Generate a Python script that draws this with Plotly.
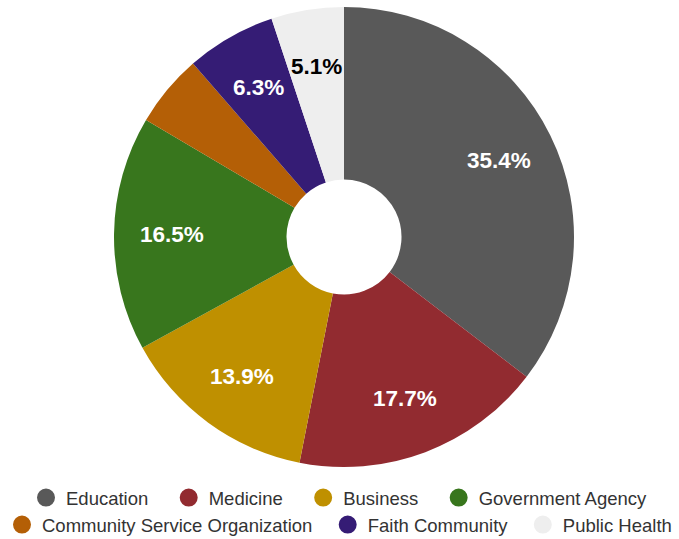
import math
import plotly.graph_objects as go

labels = ["Education", "Medicine", "Business", "Government Agency",
          "Community Service Organization", "Faith Community", "Public Health"]
values = [35.4, 17.7, 13.9, 16.5, 5.1, 6.3, 5.1]
colors = ["#595959", "#922B30", "#BF9000", "#38761D", "#B45F06", "#351C75", "#EEEEEE"]
show_text = [True, True, True, True, False, True, True]
text_colors = ["white", "white", "white", "white", "white", "white", "black"]

W, H = 679, 539
cx, cy, r = 344, 237, 230
label_frac = 0.75

fig = go.Figure()
fig.add_trace(go.Pie(
    labels=labels, values=values, sort=False, direction="clockwise", rotation=0,
    hole=0.25,
    marker=dict(colors=colors, line=dict(width=0)),
    textinfo="none",
    showlegend=False,
    hoverinfo="label+percent",
    domain=dict(x=[(cx - r) / W, (cx + r) / W], y=[1 - (cy + r) / H, 1 - (cy - r) / H]),
))

# slice labels placed at the mid-angle of each slice (computed from the values)
total = sum(values)
cum = 0.0
for v, s, tc in zip(values, show_text, text_colors):
    mid = (cum + v / 2) / total * 2 * math.pi
    cum += v
    if not s:
        continue
    px = cx + label_frac * r * math.sin(mid)
    py = cy - label_frac * r * math.cos(mid)
    fig.add_annotation(
        x=px / W, y=1 - py / H, xref="paper", yref="paper",
        text=f"<b>{v:.1f}%</b>", showarrow=False,
        font=dict(family="Liberation Sans, Arial", size=22.5, color=tc),
        xanchor="center", yanchor="middle",
    )

for i, (lab, col) in enumerate(zip(labels, colors)):
    if i in (3, 6):
        name = lab
    elif i < 4:
        name = lab + "\u00a0\u00a0\u00a0"
    else:
        name = lab + "\u00a0\u00a0"
    fig.add_trace(go.Scatter(
        x=[None], y=[None], mode="markers", name=name,
        marker=dict(color=col, size=18, symbol="circle", line=dict(color=col, width=2)),
        legend="legend" if i < 4 else "legend2",
        showlegend=True,
    ))

legend_common = dict(orientation="h", xanchor="center", x=0.5, yanchor="middle",
                     font=dict(family="Liberation Sans, Arial", size=18.5, color="#333333"),
                     itemsizing="trace", bgcolor="rgba(0,0,0,0)")
fig.update_layout(
    width=W, height=H,
    margin=dict(l=0, r=0, t=0, b=0, autoexpand=False),
    paper_bgcolor="white", plot_bgcolor="white",
    xaxis=dict(visible=False), yaxis=dict(visible=False),
    legend=dict(**legend_common, y=1 - 498 / H),
    legend2=dict(**legend_common, y=1 - 525 / H),
)
fig.write_html("out.html", config={"displayModeBar": False},
               post_script="document.body.style.margin='0';")
